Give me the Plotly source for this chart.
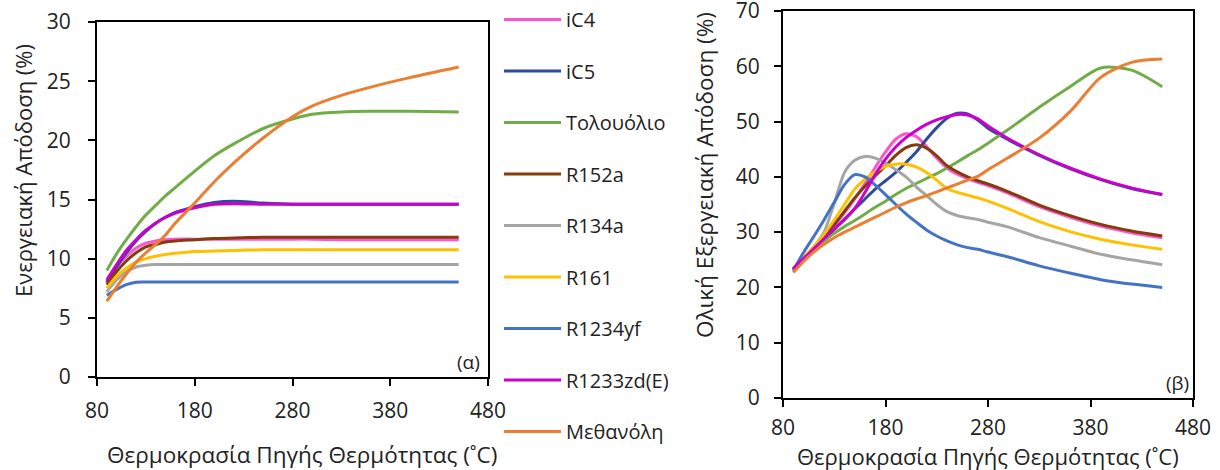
import plotly.graph_objects as go

# ---------------- data ----------------
series_names = ["iC4", "iC5", "Τολουόλιο", "R152a", "R134a", "R161", "R1234yf", "R1233zd(E)", "Μεθανόλη"]
series_colors = ["#FF55CC", "#2F4B9B", "#70AD47", "#843C0C", "#A5A5A5", "#FFC000", "#4472C4", "#CC00CC", "#ED7D31"]

# (α) energy efficiency
temp_a = [90, 100, 110, 120, 130, 140, 150, 160, 180, 200, 220, 250, 280, 300, 330, 360, 400, 450]
iC4_a = [8.1, 9.3, 10.2, 10.9, 11.3, 11.5, 11.6, 11.65, 11.65, 11.65, 11.65, 11.65, 11.65, 11.65, 11.6, 11.6, 11.6, 11.6]
iC5_a = [8.0, 9.3, 10.5, 11.5, 12.3, 13.0, 13.5, 13.9, 14.4, 14.75, 14.85, 14.7, 14.6, 14.6, 14.6, 14.6, 14.6, 14.6]
toluene_a = [9.0, 10.4, 11.6, 12.7, 13.7, 14.5, 15.3, 16.0, 17.4, 18.7, 19.7, 21.0, 21.8, 22.2, 22.4, 22.45, 22.45, 22.4]
r152a_a = [7.8, 8.9, 9.8, 10.5, 11.0, 11.2, 11.4, 11.5, 11.6, 11.7, 11.75, 11.8, 11.8, 11.8, 11.8, 11.8, 11.8, 11.8]
r134a_a = [7.2, 8.2, 8.9, 9.3, 9.45, 9.5, 9.5, 9.5, 9.5, 9.5, 9.5, 9.5, 9.5, 9.5, 9.5, 9.5, 9.5, 9.5]
r161_a = [7.5, 8.5, 9.2, 9.7, 10.0, 10.2, 10.35, 10.45, 10.6, 10.65, 10.7, 10.75, 10.75, 10.75, 10.75, 10.75, 10.75, 10.75]
r1234yf_a = [6.9, 7.4, 7.8, 8.0, 8.02, 8.02, 8.02, 8.02, 8.02, 8.02, 8.02, 8.02, 8.02, 8.02, 8.02, 8.02, 8.02, 8.02]
r1233zd_a = [8.2, 9.5, 10.7, 11.6, 12.4, 13.0, 13.5, 13.85, 14.3, 14.6, 14.65, 14.6, 14.6, 14.6, 14.6, 14.6, 14.6, 14.6]
methanol_a = [6.4, 7.6, 8.7, 9.7, 10.5, 11.2, 12.0, 13.0, 14.7, 16.5, 18.1, 20.2, 22.0, 22.9, 23.8, 24.5, 25.3, 26.2]

# (β) total exergy efficiency
temp_b = [90, 100, 110, 120, 130, 140, 150, 160, 170, 180, 190, 200, 210, 220, 230, 240, 250, 260, 270, 280, 300, 330, 360, 390, 420, 450]
iC4_b = [23.3, 25.2, 27.1, 29.1, 31.2, 33.5, 36.0, 38.8, 41.7, 44.5, 46.8, 47.8, 47.3, 45.5, 43.4, 41.6, 40.5, 39.7, 39.0, 38.4, 37.0, 34.6, 32.7, 31.1, 29.9, 29.0]
iC5_b = [23.3, 25.1, 26.9, 28.7, 30.5, 32.3, 34.2, 36.0, 37.8, 39.3, 40.8, 42.6, 44.5, 46.8, 48.9, 50.6, 51.5, 51.4, 50.3, 48.8, 46.7, 43.9, 41.5, 39.5, 37.9, 36.8]
toluene_b = [22.8, 24.9, 26.8, 28.4, 29.8, 31.0, 32.1, 33.3, 34.5, 35.6, 36.8, 37.9, 38.8, 39.7, 40.6, 41.6, 42.7, 43.8, 44.9, 46.1, 48.6, 52.6, 56.3, 59.7, 59.3, 56.3]
r152a_b = [23.2, 25.2, 27.2, 29.2, 31.4, 33.8, 36.2, 38.3, 40.2, 42.0, 43.9, 45.3, 45.8, 45.2, 43.8, 42.0, 40.9, 40.0, 39.3, 38.7, 37.3, 34.9, 33.0, 31.4, 30.2, 29.3]
r134a_b = [23.2, 25.2, 27.3, 30.0, 35.2, 40.8, 43.0, 43.7, 43.4, 42.5, 41.3, 40.0, 38.2, 36.6, 35.0, 33.7, 33.0, 32.6, 32.3, 31.8, 30.9, 29.0, 27.5, 26.0, 25.0, 24.1]
r161_b = [23.2, 25.3, 27.4, 29.6, 32.2, 35.0, 37.8, 39.6, 40.9, 41.9, 42.3, 42.3, 41.8, 40.8, 39.4, 37.9, 37.2, 36.7, 36.2, 35.6, 34.2, 31.9, 30.1, 28.7, 27.7, 26.9]
r1234yf_b = [23.1, 26.3, 29.2, 32.2, 35.4, 38.6, 40.4, 40.0, 38.5, 36.8, 35.0, 33.3, 31.8, 30.4, 29.3, 28.4, 27.7, 27.2, 26.9, 26.4, 25.5, 23.9, 22.6, 21.4, 20.6, 20.0]
r1233zd_b = [23.4, 25.2, 27.0, 28.8, 30.6, 32.3, 34.3, 37.2, 40.4, 43.2, 45.4, 47.1, 48.4, 49.5, 50.3, 50.9, 51.3, 51.2, 50.5, 49.2, 46.9, 44.0, 41.6, 39.6, 38.0, 36.8]
methanol_b = [22.7, 24.7, 26.4, 27.8, 29.0, 30.0, 30.9, 31.8, 32.7, 33.6, 34.5, 35.3, 36.0, 36.6, 37.3, 38.0, 38.7, 39.4, 40.1, 41.3, 43.5, 47.0, 51.8, 58.0, 60.7, 61.3]

x_ticks = [80, 180, 280, 380, 480]
y_ticks_a = [0, 5, 10, 15, 20, 25, 30]
y_ticks_b = [0, 10, 20, 30, 40, 50, 60, 70]

x_title = "Θερμοκρασία Πηγής Θερμότητας (˚C)"
y_title_a = "Ενεργειακή Απόδοση (%)"
y_title_b = "Ολική Εξεργειακή Απόδοση (%)"

values_a = [iC4_a, iC5_a, toluene_a, r152a_a, r134a_a, r161_a, r1234yf_a, r1233zd_a, methanol_a]
values_b = [iC4_b, iC5_b, toluene_b, r152a_b, r134a_b, r161_b, r1234yf_b, r1233zd_b, methanol_b]

# ---------------- figure ----------------
W, H = 1220, 470
FONT = "Open Sans"
TXT = "#222"
fig = go.Figure()

for i, name in enumerate(series_names):
    fig.add_trace(go.Scatter(
        x=temp_a, y=values_a[i], name=name, mode="lines",
        line=dict(color=series_colors[i], width=3, shape="spline", smoothing=0.8),
        xaxis="x", yaxis="y", legendgroup=name, showlegend=True))
for i, name in enumerate(series_names):
    fig.add_trace(go.Scatter(
        x=temp_b, y=values_b[i], name=name, mode="lines",
        line=dict(color=series_colors[i], width=3, shape="spline", smoothing=0.8),
        xaxis="x2", yaxis="y2", legendgroup=name, showlegend=False))

def px_x(p):
    return p / W

def px_y(p):
    return 1 - p / H

axis_common = dict(showline=True, linecolor="black", linewidth=2, mirror=True,
                   ticks="outside", ticklen=7, tickwidth=2, tickcolor="black",
                   showgrid=False, zeroline=False, automargin=False,
                   ticklabeloverflow="allow",
                   tickfont=dict(family=FONT, size=21, color=TXT))

def ann(text, x, y, size, angle=0):
    return dict(text=text, xref="paper", yref="paper", x=px_x(x), y=px_y(y),
                xanchor="center", yanchor="middle", textangle=angle,
                showarrow=False, font=dict(family=FONT, size=size, color=TXT))

fig.update_layout(
    width=W, height=H,
    margin=dict(l=0, r=0, t=0, b=0, autoexpand=False),
    paper_bgcolor="white", plot_bgcolor="white",
    font=dict(family=FONT, color=TXT),
    xaxis=dict(domain=[px_x(97), px_x(488)], range=[80, 480], tickvals=x_ticks,
               anchor="y", ticklabelstandoff=7, **axis_common),
    yaxis=dict(domain=[px_y(377), px_y(22)], range=[0, 30], tickvals=y_ticks_a,
               anchor="x", ticklabelstandoff=13, **axis_common),
    xaxis2=dict(domain=[px_x(783), px_x(1193)], range=[80, 480], tickvals=x_ticks,
                anchor="y2", ticklabelstandoff=3, **axis_common),
    yaxis2=dict(domain=[px_y(398), px_y(11)], range=[0, 70], tickvals=y_ticks_b,
                anchor="x2", ticklabelstandoff=10, **axis_common),
    legend=dict(x=px_x(499), y=1, xanchor="left", yanchor="top",
                font=dict(family=FONT, size=20, color=TXT),
                tracegroupgap=22.5, itemwidth=57, bgcolor="rgba(0,0,0,0)"),
    annotations=[
        ann(x_title, 302, 454, 22.5),
        ann(x_title, 988, 456, 22),
        ann(y_title_a, 23, 171, 22, -90),
        ann(y_title_b, 704, 175, 22.5, -90),
        ann("(α)", 468, 362, 19),
        ann("(β)", 1177, 383, 19),
    ],
)

fig.write_html("out.html", config={"displayModeBar": False},
               post_script="document.body.style.margin='0';")
